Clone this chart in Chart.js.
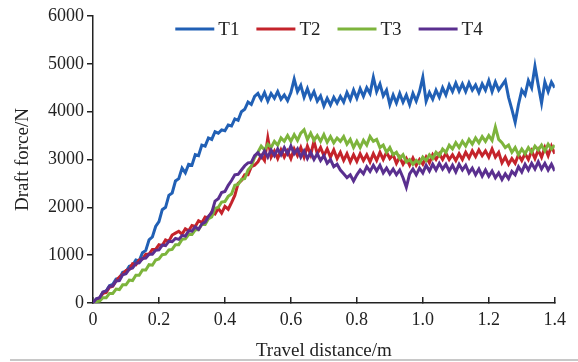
<!DOCTYPE html>
<html>
<head>
<meta charset="utf-8">
<script src="https://cdn.jsdelivr.net/npm/chart.js@4/dist/chart.umd.min.js"></script>
<style>
  html, body { margin: 0; padding: 0; background: #fff; }
  #wrap { position: relative; width: 578px; height: 362px; }
  #edge { position: absolute; left: 10px; right: 0; top: 359px; height: 2px; background: #c8c8c8; }
</style>
</head>
<body>
<div id="wrap">
  <canvas id="draftChart" width="578" height="362"></canvas>
  <div id="edge"></div>
</div>
<script>
// sampled every 0.01 m from 0 to 1.4 m
const distance = Array.from({ length: 141 }, (_, i) => i / 100);

const xTickLabels = ['0', '0.2', '0.4', '0.6', '0.8', '1.0', '1.2', '1.4'];
const yTickLabels = ['0', '1000', '2000', '3000', '4000', '5000', '6000'];
const seriesNames = ['T1', 'T2', 'T3', 'T4'];

// draft force (N)
const t1 = [
  0, 80, 100, 220, 250, 360, 390, 500, 520, 640,
  660, 770, 790, 900, 880, 1050, 1100, 1320, 1380, 1600,
  1700, 1950, 2000, 2250, 2300, 2550, 2600, 2820, 2720, 2900,
  2880, 3100, 3080, 3300, 3280, 3450, 3420, 3580, 3550, 3620,
  3600, 3720, 3700, 3850, 3820, 4000, 4050, 4200, 4150, 4320,
  4380, 4250, 4400, 4220, 4380, 4280, 4420, 4260, 4350, 4230,
  4400, 4680, 4420, 4550, 4300, 4480, 4280, 4420, 4220, 4330,
  4120, 4280, 4140, 4300, 4180, 4320, 4200, 4400, 4250, 4450,
  4280, 4480, 4320, 4500, 4380, 4720, 4420, 4580, 4330, 4450,
  4150, 4350, 4180, 4380, 4200, 4350, 4150, 4380, 4220, 4420,
  4720, 4220, 4400, 4260, 4450, 4300, 4500, 4350, 4560, 4420,
  4600, 4430, 4580, 4420, 4600, 4450, 4560, 4400, 4580, 4450,
  4650, 4420, 4620, 4450, 4550, 4650, 4300, 4050, 3780, 4150,
  4450, 4350, 4650, 4500, 4950, 4550, 4180, 4620, 4420, 4620,
  4500
];
const t2 = [
  0, 70, 100, 200, 220, 330, 350, 460, 540, 600,
  680, 700, 820, 800, 900, 920, 1020, 1020, 1120, 1120,
  1220, 1200, 1320, 1290, 1420, 1460, 1500, 1440, 1550, 1510,
  1620, 1600, 1720, 1680, 1800, 1780, 1900, 1860, 1980, 1880,
  2020, 1960, 2100, 2250, 2500, 2560, 2680, 2680, 2850, 2880,
  2950, 3080, 2980, 3450, 3050, 3180, 3020, 3200, 3050, 3180,
  3020, 3220, 3080, 3250, 3050, 3280, 3100, 3380, 3120, 3250,
  3080, 3220, 3050, 3200, 3020, 3150, 2980, 3120, 2950, 3100,
  2960, 3120, 2980, 3100, 2950, 3120, 2980, 3150, 3000, 3150,
  3020, 3100, 2920, 3050, 2900, 3020, 2880, 3030, 2880, 3000,
  2900, 3050, 2930, 3100, 3000, 3120, 3000, 3130, 3000, 3100,
  2980, 3120, 3000, 3150, 3030, 3180, 3060, 3200, 3080, 3180,
  3050, 3220, 3050, 3150, 2930, 3050, 2900, 3020, 2920, 3100,
  2980, 3120, 3000, 3180, 3020, 3200, 3050, 3250, 3080, 3280,
  3120
];
const t3 = [
  0, 30, 40, 110, 110, 200, 200, 290, 280, 380,
  380, 480, 470, 580, 580, 690, 690, 800, 790, 900,
  920, 1010, 1020, 1110, 1120, 1220, 1220, 1330, 1340, 1430,
  1430, 1530, 1530, 1640, 1640, 1760, 1800, 1980, 2000, 2110,
  2120, 2230, 2280, 2460, 2480, 2580, 2600, 2780, 2860, 3040,
  3150, 3280, 3200, 3320, 3250, 3380, 3300, 3450, 3380, 3500,
  3380, 3520, 3400, 3550, 3620, 3420, 3550, 3400, 3500, 3380,
  3520, 3360, 3480, 3350, 3450, 3380, 3480, 3320, 3420, 3250,
  3380, 3250, 3400, 3300, 3480, 3380, 3420, 3250, 3300, 3150,
  3250, 3100, 3150, 3020, 3100, 2950, 3000, 2900, 2980, 2920,
  3050, 2980, 3100, 3020, 3150, 3080, 3220, 3150, 3300, 3220,
  3350, 3250, 3380, 3280, 3420, 3320, 3450, 3350, 3480, 3380,
  3500, 3400, 3680, 3420, 3350, 3250, 3300, 3150, 3250, 3100,
  3220, 3120, 3250, 3150, 3280, 3200, 3300, 3180, 3320, 3220,
  3300
];
const t4 = [
  0, 90, 110, 230, 250, 350, 360, 460, 470, 590,
  610, 710, 730, 830, 840, 930, 940, 1020, 1020, 1100,
  1110, 1210, 1200, 1290, 1280, 1350, 1330, 1410, 1400, 1510,
  1500, 1590, 1540, 1650, 1690, 1810, 1890, 2130, 2180, 2310,
  2330, 2460, 2560, 2680, 2690, 2780, 2870, 2930, 2940, 3080,
  3140, 3050, 3180, 3050, 3200, 3080, 3220, 3100, 3250, 3120,
  3280, 3120, 3220, 3050, 3180, 3020, 3150, 3000, 3120, 2980,
  3080, 2920, 3000, 2850, 2900, 2780, 2700, 2620, 2680, 2550,
  2680, 2780, 2700, 2850, 2750, 2880, 2760, 2880, 2720, 2820,
  2700, 2800, 2680, 2780, 2620, 2420, 2700, 2800, 2680, 2820,
  2720, 2880, 2760, 2900, 2780, 2920, 2800, 2900, 2760, 2880,
  2740, 2900, 2780, 2880, 2720, 2820, 2680, 2800, 2650, 2780,
  2650, 2760, 2620, 2720, 2580, 2700, 2600, 2750, 2680, 2850,
  2740, 2900, 2780, 2920, 2800, 2950, 2800, 2920, 2780, 2900,
  2760
];

const colors = ['#2160b5', '#c4232b', '#7db43c', '#5a2f8f'];
const serif = '"Liberation Serif", "DejaVu Serif", serif';

function toPoints(values) {
  return values.map((v, i) => ({ x: distance[i], y: v }));
}

// legend drawn inside the plot, above the curves
const innerLegend = {
  id: 'innerLegend',
  afterDatasetsDraw(chart) {
    const c = chart.ctx;
    const lineLen = 39, gap = 4, spacing = 17, y = 29;
    c.save();
    c.font = '19px ' + serif;
    c.textBaseline = 'middle';
    const items = chart.data.datasets.map(ds => ({ ds, w: c.measureText(ds.label).width }));
    const total = items.reduce((s, it) => s + lineLen + gap + it.w, 0) + spacing * (items.length - 1);
    let x = 329 - total / 2;
    items.forEach(it => {
      c.strokeStyle = it.ds.borderColor;
      c.lineWidth = 3;
      c.beginPath();
      c.moveTo(x, y);
      c.lineTo(x + lineLen, y);
      c.stroke();
      c.fillStyle = '#222';
      c.fillText(it.ds.label, x + lineLen + gap, y + 1);
      x += lineLen + gap + it.w + spacing;
    });
    c.restore();
  }
};

const series = [t1, t2, t3, t4];
const ctx = document.getElementById('draftChart').getContext('2d');

new Chart(ctx, {
  type: 'line',
  data: {
    datasets: series.map((values, k) => ({
      label: seriesNames[k],
      data: toPoints(values),
      borderColor: colors[k],
      backgroundColor: colors[k],
      borderWidth: 3,
      pointRadius: 0,
      tension: 0,
      order: 4 - k
    }))
  },
  options: {
    responsive: false,
    animation: false,
    layout: { padding: { top: 16, right: 20, bottom: 0, left: 0 } },
    plugins: {
      legend: { display: false },
      tooltip: { enabled: false }
    },
    scales: {
      x: {
        type: 'linear',
        min: 0,
        max: 1.4,
        afterFit(scale) { scale.height = 59; },
        afterBuildTicks(scale) {
          scale.ticks = xTickLabels.map(t => ({ value: parseFloat(t) }));
        },
        border: { display: true, color: '#222', width: 1.5 },
        grid: { drawOnChartArea: false, tickLength: -6, color: '#222', lineWidth: 1.5 },
        ticks: {
          color: '#222',
          font: { family: serif, size: 18 },
          padding: 12,
          maxRotation: 0,
          autoSkip: false,
          callback: (v, i) => xTickLabels[i]
        },
        title: {
          display: true,
          text: 'Travel distance/m',
          color: '#222',
          font: { family: serif, size: 19 },
          padding: { top: 2, bottom: 0 }
        }
      },
      y: {
        min: 0,
        max: 6000,
        afterFit(scale) { scale.width = 93; },
        afterBuildTicks(scale) {
          scale.ticks = yTickLabels.map(t => ({ value: parseFloat(t) }));
        },
        border: { display: true, color: '#222', width: 1.5 },
        grid: { drawOnChartArea: false, tickLength: 6, color: '#222', lineWidth: 1.5 },
        ticks: {
          color: '#222',
          font: { family: serif, size: 18 },
          padding: 3,
          autoSkip: false,
          callback: (v, i) => yTickLabels[i]
        },
        title: {
          display: true,
          text: 'Draft force/N',
          color: '#222',
          font: { family: serif, size: 19 },
          padding: { top: 12, bottom: 4 }
        }
      }
    }
  },
  plugins: [innerLegend]
});
</script>
</body>
</html>
